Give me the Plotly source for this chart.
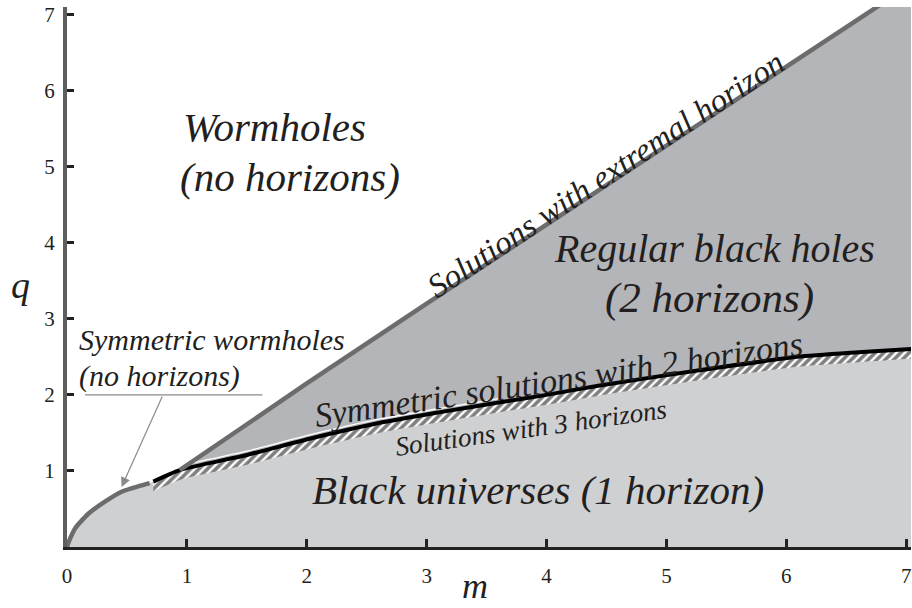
import plotly.graph_objects as go

# кривая симметричных кротовых нор (серая, от начала координат)
wh_m = [0.0, 0.015, 0.07, 0.18, 0.32, 0.46, 0.60, 0.69]
wh_q = [0.0, 0.07, 0.25, 0.44, 0.60, 0.73, 0.80, 0.84]

# симметричные решения с 2 горизонтами (чёрная линия)
sym_m = [0.72, 0.94, 1.50, 2.04, 2.60, 3.10, 3.60, 4.00, 4.43, 5.26, 6.09, 6.60, 7.10]
sym_q = [0.86, 1.01, 1.21, 1.43, 1.63, 1.77, 1.90, 2.00, 2.12, 2.32, 2.50, 2.56, 2.61]

# решения с экстремальным горизонтом
ext_m = [0.94, 2.0, 3.0, 4.0, 5.0, 6.0, 6.9]
ext_q = [1.01, 2.15, 3.20, 4.24, 5.28, 6.31, 7.25]

x_ticks = [0, 1, 2, 3, 4, 5, 6, 7]
y_ticks = [1, 2, 3, 4, 5, 6, 7]

SERIF = "Liberation Serif"
DARK = "#b4b5b9"
LIGHT = "#cfd0d2"
LINE_GRAY = "#6c6c6c"
HATCH_W = 0.13

fig = go.Figure()

# чёрные вселенные: всё под границей
low_m = wh_m + sym_m
low_q = wh_q + sym_q
fig.add_trace(go.Scatter(x=low_m, y=low_q, mode="lines",
                         line=dict(width=0, shape="spline", smoothing=0.6),
                         fill="tozeroy", fillcolor=LIGHT, hoverinfo="skip"))

# регулярные чёрные дыры: между экстремальной линией и чёрной кривой
sym_tail = [(m, q) for m, q in zip(sym_m, sym_q) if m >= ext_m[0]]
poly_m = ext_m + [sym_m[-1]] + [m for m, q in reversed(sym_tail)]
poly_q = ext_q + [ext_q[-1]] + [q for m, q in reversed(sym_tail)]
fig.add_trace(go.Scatter(x=poly_m, y=poly_q, mode="lines", line=dict(width=0),
                         fill="toself", fillcolor=DARK, hoverinfo="skip"))

# штриховка: решения с 3 горизонтами
fig.add_trace(go.Scatter(x=sym_m, y=[q - HATCH_W for q in sym_q], mode="lines",
                         line=dict(width=0, shape="spline", smoothing=0.6),
                         hoverinfo="skip"))
fig.add_trace(go.Scatter(x=sym_m, y=sym_q, mode="lines",
                         line=dict(color="black", width=4, shape="spline", smoothing=0.6),
                         fill="tonexty", fillcolor="white",
                         fillpattern=dict(shape="/", fgcolor="black", bgcolor="white",
                                          size=6, solidity=0.6),
                         hoverinfo="skip"))

# тонкая белая кромка над чёрной линией
edge = [(m, q + 0.05) for m, q in zip(sym_m, sym_q) if m <= 3.6]
fig.add_trace(go.Scatter(x=[e[0] for e in edge], y=[e[1] for e in edge], mode="lines",
                         line=dict(color="white", width=1.3, shape="spline", smoothing=0.6),
                         hoverinfo="skip"))

# серая кривая кротовых нор и экстремальная линия
fig.add_trace(go.Scatter(x=wh_m, y=wh_q, mode="lines",
                         line=dict(color=LINE_GRAY, width=4.5, shape="spline", smoothing=0.6),
                         hoverinfo="skip"))
fig.add_trace(go.Scatter(x=ext_m, y=ext_q, mode="lines",
                         line=dict(color=LINE_GRAY, width=4.5), hoverinfo="skip"))

# выноска для симметричных кротовых нор
fig.add_shape(type="line", x0=0.15, x1=1.63, y0=2.0, y1=2.0,
              line=dict(color="#8a8a8a", width=1.3))
fig.add_annotation(x=0.455, y=0.79, ax=0.80, ay=2.0, axref="x", ayref="y",
                   text="", showarrow=True, arrowhead=2, arrowsize=1.6,
                   arrowwidth=1.2, arrowcolor="#8a8a8a")


def label(x, y, text, size, angle=0, xanchor="center"):
    fig.add_annotation(x=x, y=y, text=text, showarrow=False,
                       textangle=angle, xanchor=xanchor,
                       font=dict(family=SERIF, size=size, color="#231f20", style="italic"))


label(0.95, 5.52, "Wormholes", 41, xanchor="left")
label(0.93, 4.86, "(no horizons)", 41, xanchor="left")
label(5.40, 3.92, "Regular black holes", 40)
label(5.36, 3.27, "(2 horizons)", 43)
label(3.93, 0.75, "Black universes (1 horizon)", 41)
label(0.08, 2.73, "Symmetric wormholes", 30, xanchor="left")
label(0.08, 2.25, "(no horizons)", 30, xanchor="left")
label(4.50, 4.90, "Solutions with extremal horizon", 33, angle=-33.4)
label(4.10, 2.20, "Symmetric solutions with 2 horizons", 34, angle=-8.5)
label(3.87, 1.57, "Solutions with 3 horizons", 27, angle=-8)

# подписи осей
fig.add_annotation(xref="paper", yref="paper", x=-0.0555, y=0.485, text="q",
                   xanchor="center", yanchor="middle", showarrow=False,
                   font=dict(family=SERIF, size=38, color="#231f20", style="italic"))
fig.add_annotation(xref="paper", yref="paper", x=0.483, y=-0.073, text="m",
                   xanchor="center", yanchor="middle", showarrow=False,
                   font=dict(family=SERIF, size=36, color="#231f20", style="italic"))

fig.update_xaxes(range=[0, 7.04], tickvals=x_ticks, showgrid=False, zeroline=False,
                 showline=True, linecolor="#222222", linewidth=3,
                 ticks="inside", ticklen=8, tickwidth=3, tickcolor="#222222",
                 ticklabelstandoff=8, automargin=False, ticklabeloverflow="allow",
                 tickfont=dict(family=SERIF, size=21, color="#231f20"))
fig.update_yaxes(range=[0, 7.1], tickvals=y_ticks, showgrid=False, zeroline=False,
                 showline=True, linecolor="#5f5f5f", linewidth=4,
                 ticks="inside", ticklen=7, tickwidth=3, tickcolor="#222222",
                 ticklabelstandoff=4, automargin=False,
                 tickfont=dict(family=SERIF, size=21, color="#231f20"))

fig.update_layout(width=912, height=608, showlegend=False,
                  margin=dict(l=67, r=1, t=7, b=61),
                  font=dict(family=SERIF),
                  plot_bgcolor="white", paper_bgcolor="white")

# убираем отступ страницы, чтобы график встал точно в окно
fig.write_html("out.html", post_script="document.body.style.margin='0';",
               config={"displayModeBar": False})
